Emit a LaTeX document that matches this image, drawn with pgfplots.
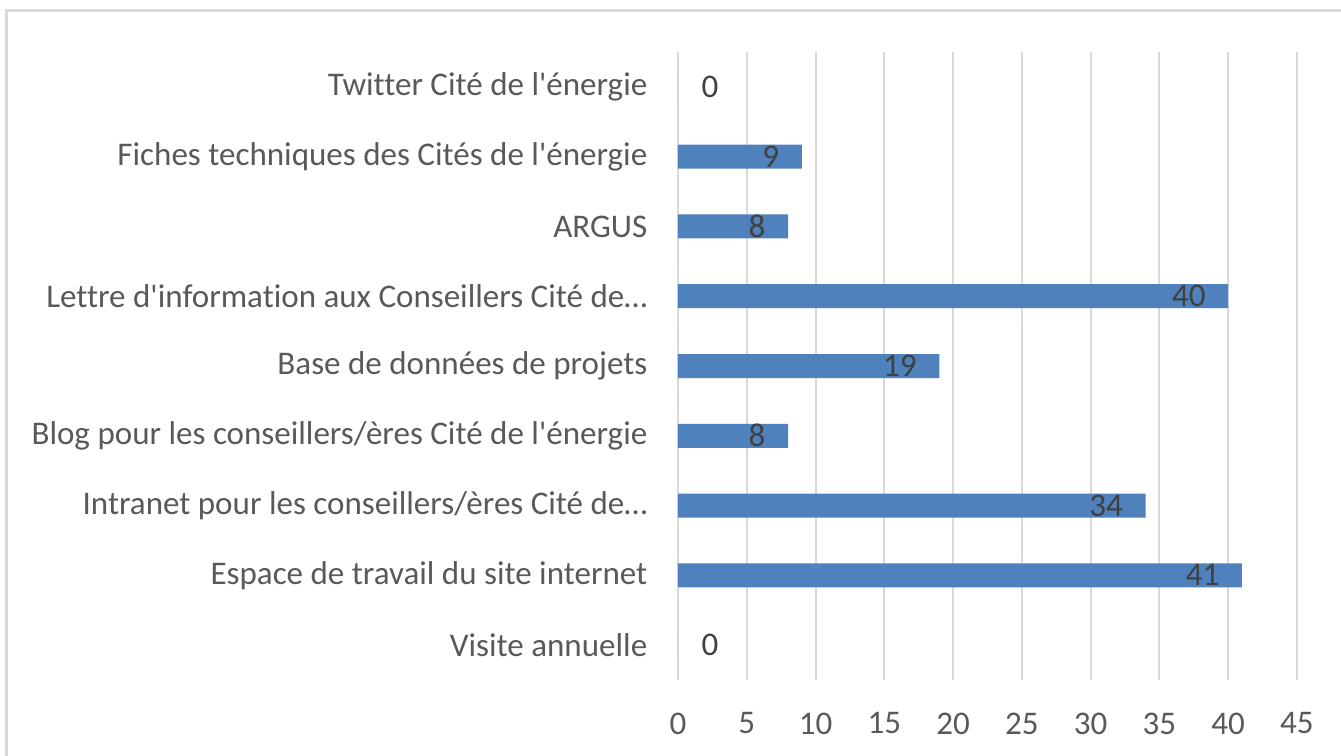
\documentclass[border=0pt]{standalone}
\usepackage{fontspec}
\setmainfont{Carlito}[Ligatures={NoCommon}]
\usepackage{pgfplots}
\pgfplotsset{compat=1.18}
\definecolor{barBlue}{HTML}{4F81BD}
\definecolor{gridGrey}{HTML}{D9D9D9}
\definecolor{labelGrey}{HTML}{595959}
\definecolor{valGrey}{HTML}{404040}
\newcommand{\q}{\textquotesingle}
\newcommand{\lblfont}{\fontsize{9.4}{11}\selectfont}

\begin{document}
\begin{tikzpicture}
\path[use as bounding box] (0,0) rectangle (134.1mm,-75.6mm);
\draw[gridGrey, line width=0.22mm] (0.65mm,-80mm) -- (0.65mm,-1.05mm) -- (140mm,-1.05mm);
\begin{axis}[
  at={(67.8mm,-68.0mm)}, anchor=south west,
  scale only axis,
  width=61.9mm, height=62.8mm,
  xbar, bar width=2.4mm, bar shift=0pt,
  xmin=0, xmax=45, ymin=-0.5, ymax=8.5,
  xtick={0,5,...,45},
  ytick={0,...,8},
  yticklabels={Visite annuelle,
    Espace de travail du site internet,
    Intranet pour les conseillers/ères Cité de…,
    Blog pour les conseillers/ères Cité de l\q énergie\hspace{0.8mm},
    Base de données de projets,
    Lettre d\q information aux Conseillers Cité de…,
    ARGUS,
    Fiches techniques des Cités de l\q énergie,
    Twitter Cité de l\q énergie},
  axis line style={draw=none},
  major tick length=0pt,
  xmajorgrids, grid style={gridGrey, line width=0.2mm},
  /pgf/number format/assume math mode=true,
  xticklabel style={font=\lblfont, color=labelGrey, inner sep=0pt, anchor=north, yshift=-3.2mm},
  yticklabel style={font=\lblfont, color=labelGrey, inner sep=0pt, anchor=east, xshift=-3.0mm},
]
\addplot[fill=barBlue, draw=none,
  nodes near coords,
  nodes near coords align={center},
  every node near coord/.append style={font=\lblfont, color=valGrey, inner sep=0pt, anchor=east, xshift=-2.2mm}]
  coordinates {
    (41,1)
    (34,2)
    (8,3)
    (19,4)
    (40,5)
    (8,6)
    (9,7)
  };
\addplot[fill=barBlue, draw=none,
  nodes near coords,
  nodes near coords align={center},
  every node near coord/.append style={font=\lblfont, color=valGrey, inner sep=0pt, anchor=west, xshift=2.3mm}]
  coordinates {
    (0,0)
    (0,8)
  };
\end{axis}
\end{tikzpicture}
\end{document}
